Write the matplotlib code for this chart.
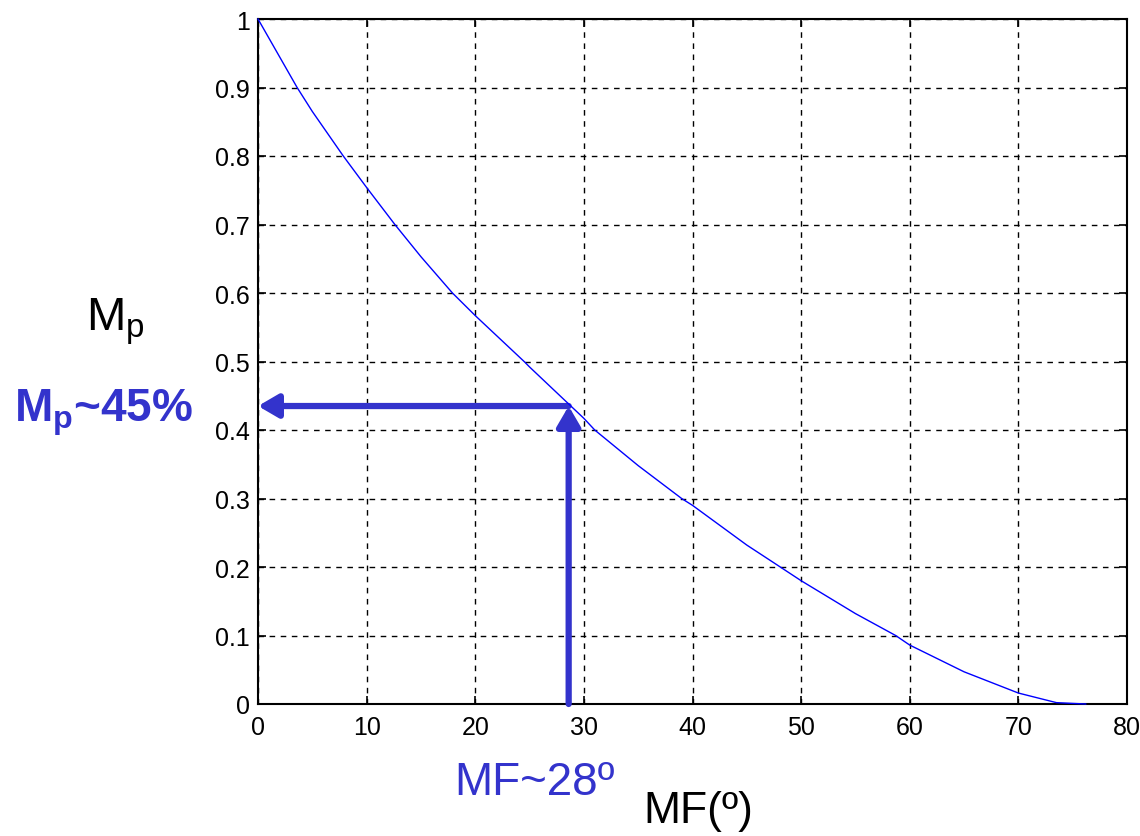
import numpy as np
import matplotlib
matplotlib.use('Agg')
from matplotlib import pyplot as plt

plt.rcParams['font.family'] = ['Liberation Sans', 'DejaVu Sans']
plt.rcParams['mathtext.fontset'] = 'custom'
plt.rcParams['mathtext.rm'] = 'Liberation Sans'
plt.rcParams['mathtext.bf'] = 'Liberation Sans:bold'

# phase margin (deg) vs overshoot
mf = [0, 3.6, 5, 7.85, 10, 12.6, 15, 17.9, 20, 24.5, 25, 30, 31.0, 35,
      39.0, 40, 45, 47.6, 50, 55, 58.7, 60, 65, 70, 73.5, 76.2]
mp = [1.0, 0.9, 0.865, 0.8, 0.754, 0.7, 0.653, 0.6, 0.567, 0.5, 0.492,
      0.417, 0.4, 0.348, 0.3, 0.29, 0.232, 0.205, 0.18, 0.132, 0.1, 0.086,
      0.047, 0.016, 0.002, 0.0]

mf_read = 28.6
mp_read = 0.435

xticks = np.arange(0, 81, 10)
yticks = np.round(np.arange(0, 1.01, 0.1), 1)
ytick_labels = ['0'] + ['%.1f' % v for v in yticks[1:-1]] + ['1']

blue = '#3333CC'

W, H = 1140, 837
fig = plt.figure(figsize=(W / 100, H / 100), dpi=100)
ax = fig.add_axes([258 / W, (H - 705) / H, (1127 - 258) / W, (705 - 20) / H])

ax.plot(mf, mp, color='#0000FF', lw=1.0, zorder=5, clip_on=False)

ax.set_xlim(0, 80)
ax.set_ylim(0, 1)
ax.set_xticks(xticks)
ax.set_yticks(yticks)
ax.set_yticklabels(ytick_labels)
ax.grid(True, color='black', linestyle=(0, (4, 4)), lw=1.0)
ax.tick_params(direction='in', length=6, width=1.2, top=True, right=True,
               labelsize=18, colors='black', pad=6)
ax.tick_params(axis='x', pad=8)
for s in ax.spines.values():
    s.set_linewidth(1.5)

# arrows
arrow = dict(arrowstyle='-|>,head_length=0.6,head_width=0.35', lw=4.5,
             color=blue, shrinkA=0, shrinkB=0, mutation_scale=20)
ax.annotate('', xy=(0, mp_read), xytext=(mf_read, mp_read),
            arrowprops=arrow, annotation_clip=False, zorder=4)
ax.annotate('', xy=(mf_read, mp_read), xytext=(mf_read, 0),
            arrowprops=arrow, annotation_clip=False, zorder=4)

def px(x, y):
    return x / W, (H - y) / H

fig.text(*px(86, 331), r'$\mathregular{M_p}$', fontsize=34, color='black',
         va='baseline', ha='left')
fig.text(*px(14, 422), r'$\mathregular{M_p}$~45%', fontsize=33,
         fontweight='bold', color=blue, va='baseline', ha='left')
fig.text(*px(454, 795), 'MF~28º', fontsize=33, color=blue,
         va='baseline', ha='left')
fig.text(*px(643, 823), 'MF(º)', fontsize=32, color='black',
         va='baseline', ha='left')

fig.savefig('out.png', dpi=100)
